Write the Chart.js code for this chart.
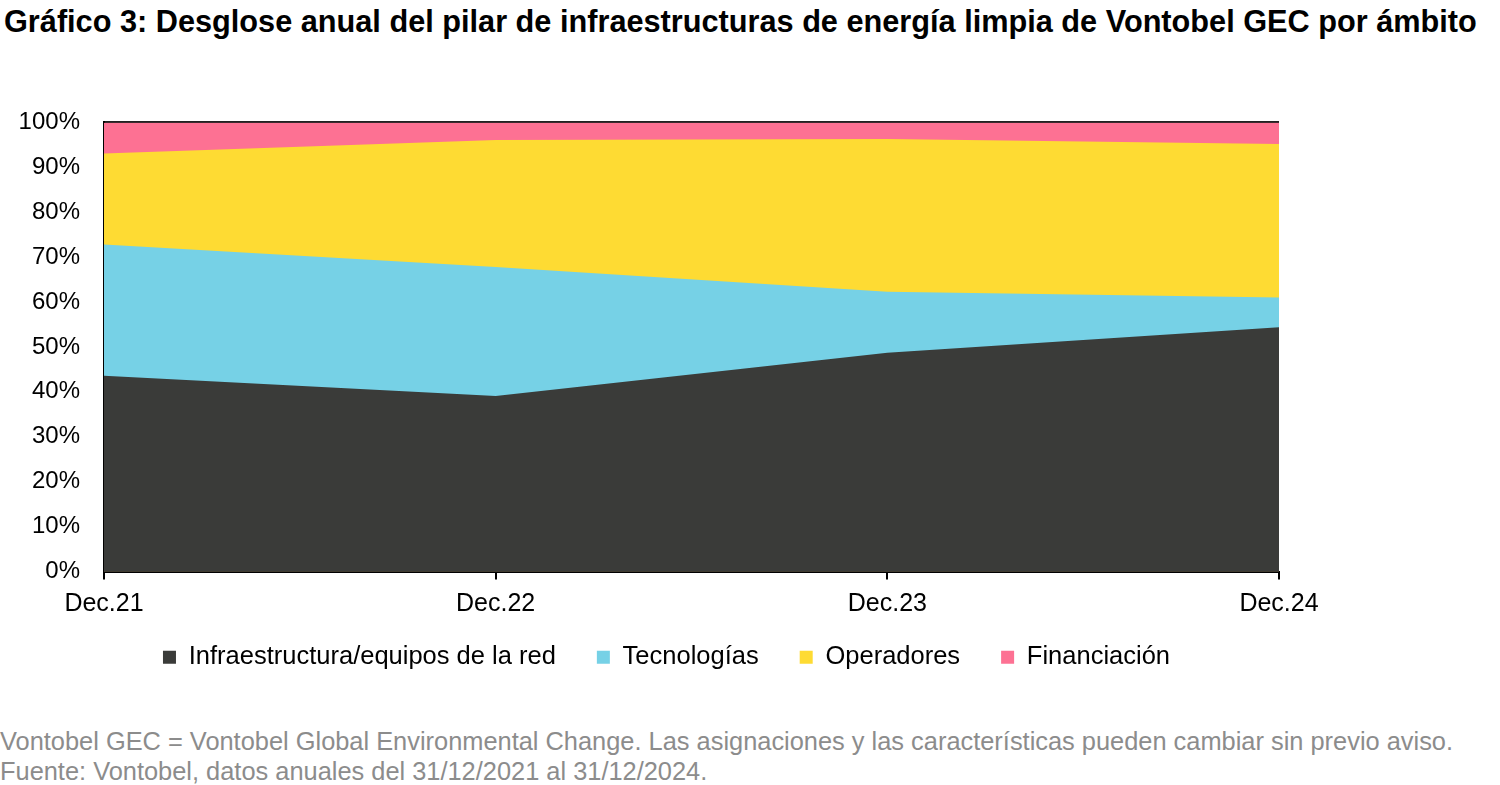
<!DOCTYPE html>
<html>
<head>
<meta charset="utf-8">
<script src="https://cdn.jsdelivr.net/npm/chart.js@4"></script>
<style>
    body { margin: 0; background: #fff; font-family: "Liberation Sans", Arial, sans-serif; }
    .title { position: absolute; left: 4px; top: 4px; font-size: 30.7px; font-weight: bold; color: #000; white-space: nowrap; }
    .chart-box { position: absolute; left: 0; top: 84px; width: 1500px; height: 596px; }
    .note { position: absolute; left: 0; top: 726px; font-size: 25.4px; color: #8c8c8c; line-height: 30px; white-space: nowrap; }
</style>
</head>
<body>
<div class="title">Gráfico 3: Desglose anual del pilar de infraestructuras de energía limpia de Vontobel GEC por ámbito</div>
<div class="chart-box"><canvas id="areaChart"></canvas></div>
<div class="note">Vontobel GEC = Vontobel Global Environmental Change. Las asignaciones y las características pueden cambiar sin previo aviso.<br>Fuente: Vontobel, datos anuales del 31/12/2021 al 31/12/2024.</div>

<script>
// Data (% of pillar)
const years = ['Dec.21', 'Dec.22', 'Dec.23', 'Dec.24'];
const infraestructura = [43.6, 39.1, 48.7, 54.4];
const tecnologias = [29.2, 28.7, 13.6, 6.6];
const operadores = [20.3, 28.3, 34.0, 34.2];
const financiacion = [6.9, 3.9, 3.7, 4.8];
const yTicks = [0, 10, 20, 30, 40, 50, 60, 70, 80, 90, 100];

const xSqueeze = 26;

function area(label, data, color) {
    return {
        label: label,
        data: data,
        backgroundColor: color,
        borderColor: color,
        borderWidth: 0,
        pointRadius: 0,
        tension: 0,
        fill: true
    };
}

// legend a bit to the right, and give the x labels back their room so they are not clipped
const layoutTweaks = {
    id: 'layoutTweaks',
    afterLayout(chart) {
        chart.legend.left += 18;
        chart.legend.right += 18;
        chart.scales.x.bottom += xSqueeze;
        chart.scales.x.height += xSqueeze;
    }
};

const ctx = document.getElementById('areaChart').getContext('2d');

new Chart(ctx, {
    type: 'line',
    data: {
        labels: years,
        datasets: [
            area('Infraestructura/equipos de la red', infraestructura, '#3a3b39'),
            area('Tecnologías', tecnologias, '#76d1e6'),
            area('Operadores', operadores, '#fedb33'),
            area('Financiación', financiacion, '#fd7193')
        ]
    },
    plugins: [layoutTweaks],
    options: {
        responsive: true,
        maintainAspectRatio: false,
        animation: false,
        layout: {
            padding: { left: 18, right: 221, top: 25, bottom: 0 }
        },
        plugins: {
            legend: {
                position: 'bottom',
                labels: {
                    color: '#000',
                    font: { family: 'Liberation Sans', size: 25.5 },
                    boxWidth: 13,
                    boxHeight: 13,
                    padding: 41
                }
            },
            tooltip: { enabled: false }
        },
        scales: {
            x: {
                offset: false,
                afterFit: (scale) => { scale.height -= xSqueeze; },
                grid: {
                    drawOnChartArea: false,
                    tickLength: 8,
                    color: '#000',
                    lineWidth: 2
                },
                border: { color: '#000', width: 2 },
                ticks: {
                    color: '#000',
                    font: { family: 'Liberation Sans', size: 25 },
                    maxRotation: 0,
                    padding: 10
                }
            },
            y: {
                stacked: true,
                min: 0,
                max: 100,
                z: 1,
                afterFit: (scale) => { scale.width = 86; },
                afterBuildTicks: (scale) => { scale.ticks = yTicks.map(v => ({ value: v })); },
                grid: {
                    drawTicks: false,
                    color: (c) => c.tick && c.tick.value === 100 ? '#222' : 'rgba(0,0,0,0)',
                    lineWidth: 2
                },
                border: { color: '#000', width: 2 },
                ticks: {
                    color: '#000',
                    padding: 24,
                    font: { family: 'Liberation Sans', size: 24 },
                    callback: (v) => v + '%'
                }
            }
        }
    }
});
</script>
</body>
</html>
